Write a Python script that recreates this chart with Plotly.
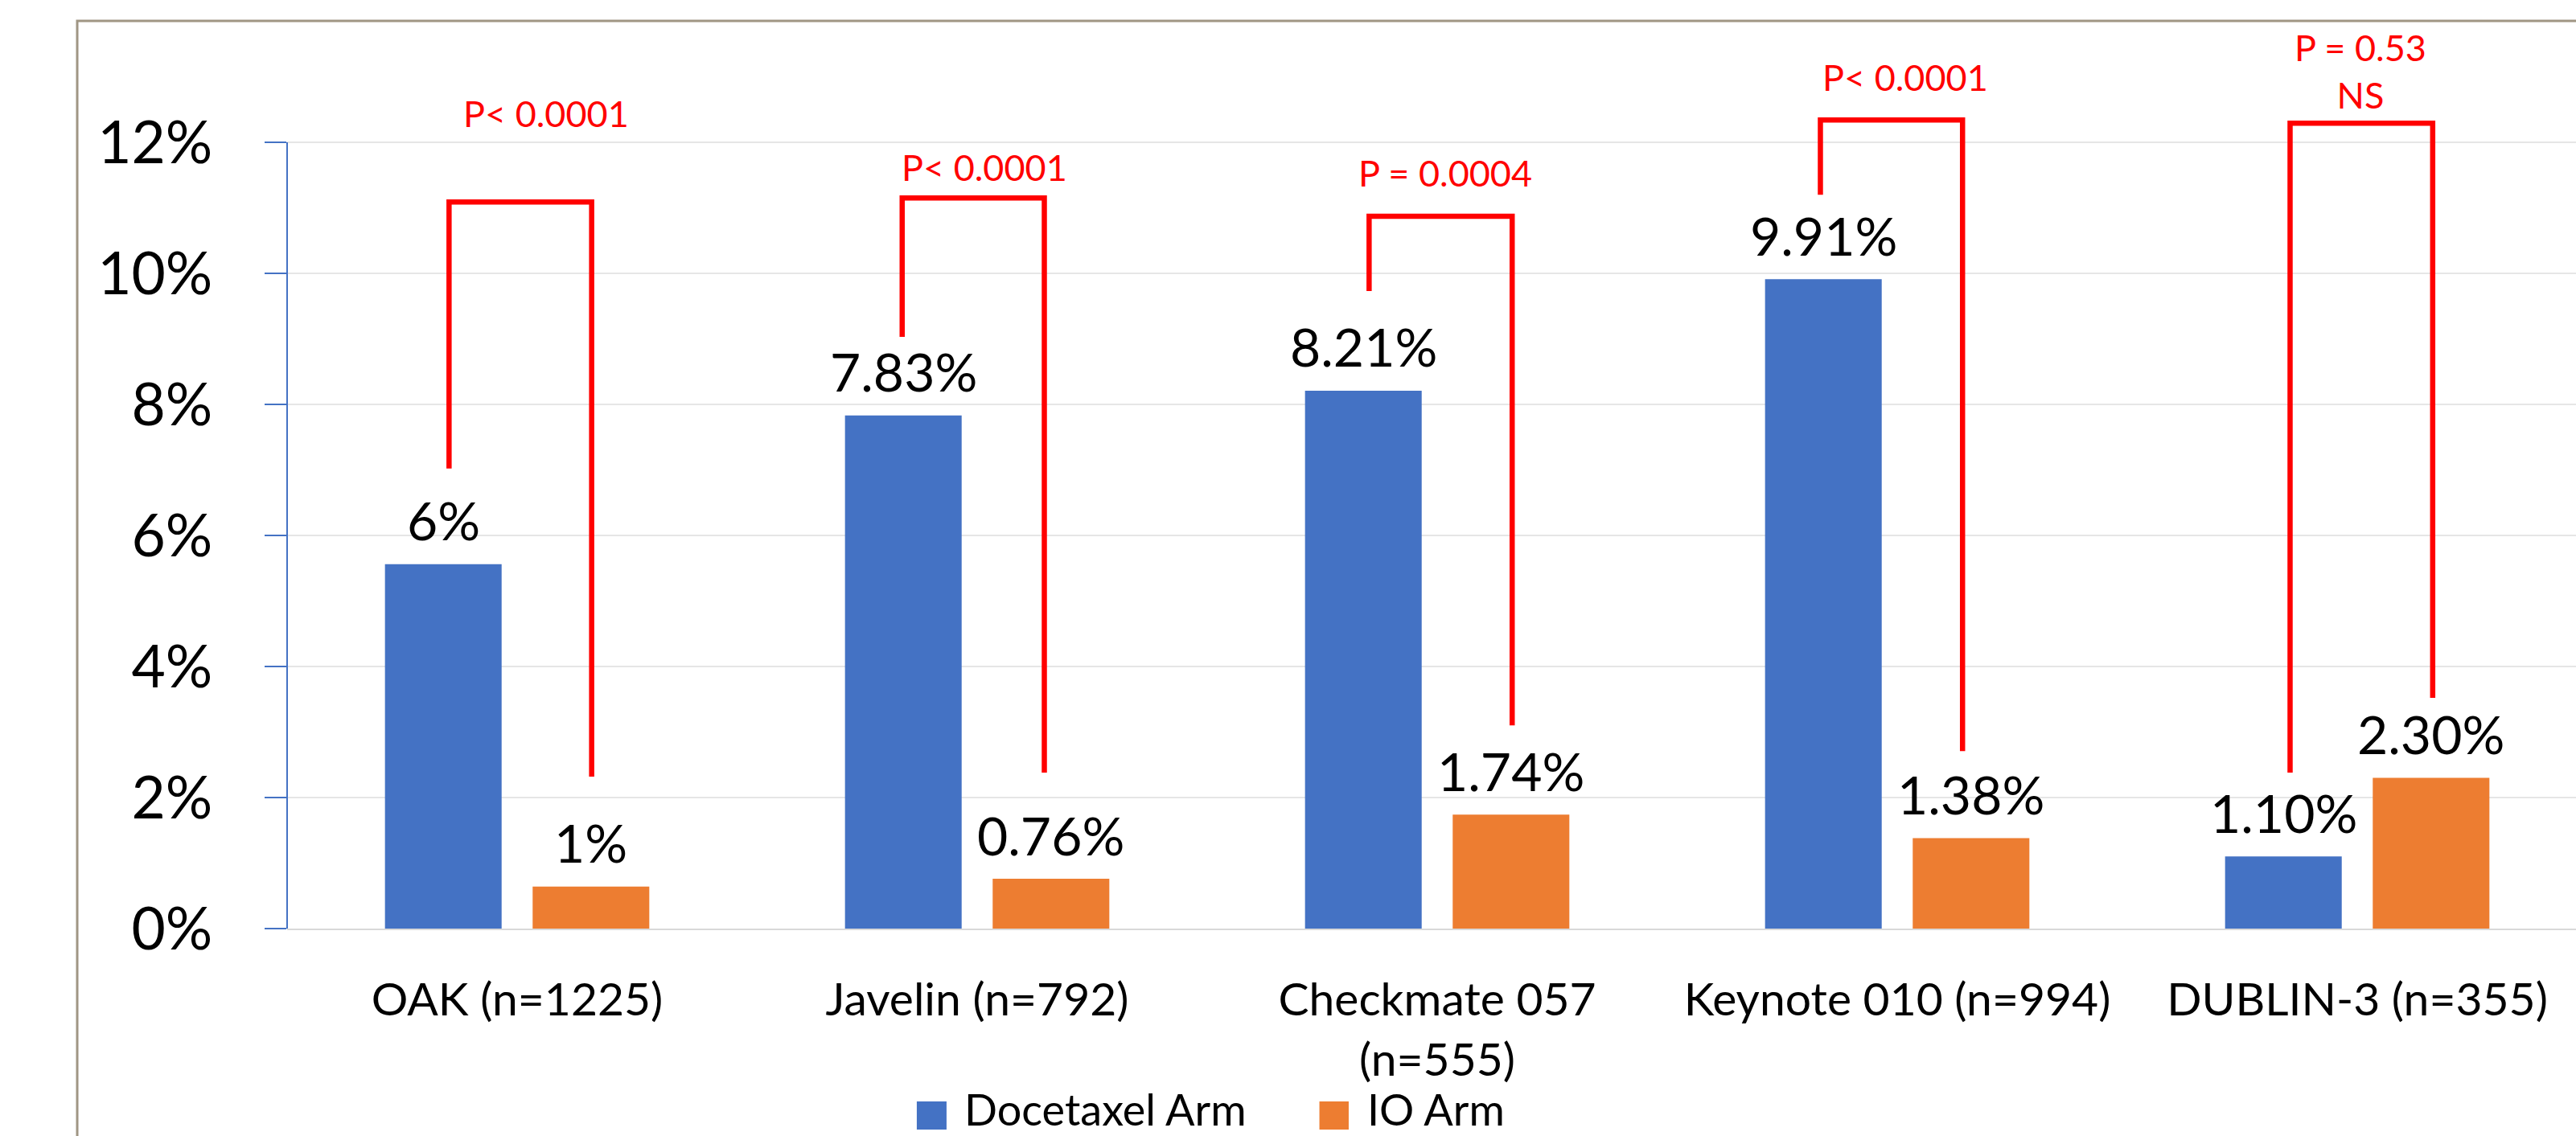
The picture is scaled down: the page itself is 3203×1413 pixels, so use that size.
import plotly.graph_objects as go

# ---------------- data ----------------
categories = ["OAK (n=1225)", "Javelin (n=792)", "Checkmate 057<br>(n=555)",
              "Keynote 010 (n=994)", "DUBLIN-3 (n=355)"]
docetaxel = [5.56, 7.83, 8.21, 9.91, 1.10]
io_arm = [0.64, 0.76, 1.74, 1.38, 2.30]
docetaxel_labels = ["6%", "7.83%", "8.21%", "9.91%", "1.10%"]
io_labels = ["1%", "0.76%", "1.74%", "1.38%", "2.30%"]
series_names = ["Docetaxel Arm", "IO Arm"]
y_ticks = [0, 2, 4, 6, 8, 10, 12]

# significance brackets (in % units / category offsets)
bracket_left_dx = [-0.148, -0.163, -0.148, -0.167, -0.146]
bracket_right_dx = [0.162, 0.146, 0.163, 0.142, 0.164]
bracket_top = [11.09, 11.15, 10.87, 12.34, 12.29]
bracket_left_bottom = [7.02, 9.03, 9.73, 11.20, 2.38]
bracket_right_bottom = [2.32, 2.38, 3.10, 2.71, 3.52]
p_texts = ["P< 0.0001", "P< 0.0001", "P = 0.0004", "P< 0.0001", "P = 0.53<br>NS"]
p_dx = [0.063, 0.015, 0.018, 0.017, 0.007]
p_y = [12.44, 11.62, 11.53, 12.99, 13.09]

# ---------------- style ----------------
FONT = "Lato, 'Open Sans', sans-serif"
BLUE = "#4472C4"
ORANGE = "#ED7D31"
RED = "#FF0000"
BARGAP = 0.358
BARGROUPGAP = 0.21
W, H = 3203, 1413
ML, MB = 357, 258
xpos = list(range(len(categories)))
group_off = (1 - BARGAP) / 4

fig = go.Figure()
fig.add_trace(go.Bar(x=xpos, y=docetaxel, name=series_names[0],
                     marker=dict(color=BLUE, line=dict(width=0)),
                     showlegend=False, hoverinfo="y"))
fig.add_trace(go.Bar(x=xpos, y=io_arm, name=series_names[1],
                     marker=dict(color=ORANGE, line=dict(width=0)),
                     showlegend=False, hoverinfo="y"))

annotations = []
# data labels
for i in xpos:
    for val, lab, sgn in ((docetaxel[i], docetaxel_labels[i], -1),
                          (io_arm[i], io_labels[i], 1)):
        annotations.append(dict(x=i + sgn * group_off, y=val, xref="x", yref="y",
                                text=lab, showarrow=False, yanchor="middle",
                                yshift=55, font=dict(family=FONT, size=66, color="black")))
# p-values
for i in xpos:
    annotations.append(dict(x=i + p_dx[i], y=p_y[i], xref="x", yref="y",
                            text=p_texts[i], showarrow=False, yanchor="middle",
                            font=dict(family=FONT, size=45, color=RED)))

shapes = []
# brackets
for i in xpos:
    xl = i + bracket_left_dx[i]
    xr = i + bracket_right_dx[i]
    path = (f"M {xl},{bracket_left_bottom[i]} L {xl},{bracket_top[i]} "
            f"L {xr},{bracket_top[i]} L {xr},{bracket_right_bottom[i]}")
    shapes.append(dict(type="path", path=path, xref="x", yref="y",
                       line=dict(color=RED, width=6.5), layer="above"))

# y axis line (only up to top tick)
shapes.append(dict(type="line", xref="paper", yref="y", x0=0, x1=0,
                   y0=y_ticks[0], y1=y_ticks[-1], line=dict(color=BLUE, width=2)))

# outer chart border (partially cropped)
shapes.append(dict(type="rect", xref="paper", yref="paper",
                   x0=-0.0917, x1=1.05, y0=-0.4, y1=0.9775,
                   line=dict(color="#A09684", width=3), layer="below"))

# custom legend
legend_items = [(series_names[0], BLUE, 0.2751, 0.2881, 0.2950),
                (series_names[1], ORANGE, 0.4510, 0.4638, 0.4712)]
for name, col, x0, x1, xt in legend_items:
    shapes.append(dict(type="rect", xref="paper", yref="paper",
                       x0=x0, x1=x1, y0=-0.2165, y1=-0.1861,
                       fillcolor=col, line=dict(width=0)))
    annotations.append(dict(x=xt, y=-0.1945, xref="paper", yref="paper",
                            text=name, showarrow=False, xanchor="left",
                            yanchor="middle",
                            font=dict(family=FONT, size=54, color="black")))

plot_w = W - ML
fig.update_layout(
    width=W, height=H,
    margin=dict(l=ML, r=0, t=0, b=MB, pad=0),
    paper_bgcolor="white", plot_bgcolor="white",
    barmode="group", bargap=BARGAP, bargroupgap=BARGROUPGAP,
    showlegend=False,
    font=dict(family=FONT, color="black"),
    xaxis=dict(range=[-0.5, -0.5 + plot_w / 572.0], tickmode="array",
               tickvals=xpos, ticktext=categories, showgrid=False,
               zeroline=False, showline=True, linecolor="#D9D9D9", linewidth=2,
               ticks="", tickfont=dict(family=FONT, size=57, color="black"),
               ticklabelstandoff=38),
    yaxis=dict(range=[0, 1155 / 81.5], tickmode="array", tickvals=y_ticks,
               ticktext=[f"{v}%" for v in y_ticks], showgrid=True,
               gridcolor="#E6E6E6", gridwidth=2, zeroline=False, showline=False,
               ticks="outside", ticklen=27, tickwidth=2, tickcolor=BLUE,
               tickfont=dict(family=FONT, size=73, color="black"),
               ticklabelstandoff=50),
    annotations=annotations,
    shapes=shapes,
)

fig.write_html("out.html")
